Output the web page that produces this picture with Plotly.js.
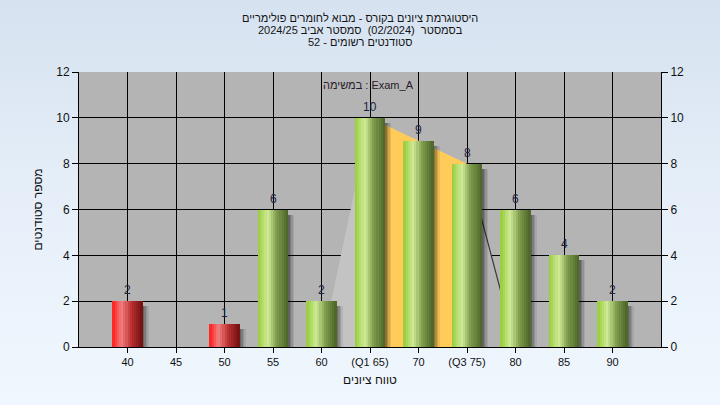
<!DOCTYPE html>
<html>
<head>
<meta charset="utf-8">
<script src="https://cdn.plot.ly/plotly-3.0.1.min.js"></script>
<style>
  html, body { margin: 0; padding: 0; }
  body { width: 720px; height: 405px; background: linear-gradient(to bottom, #d6e2f0 0%, #e6eff9 50%, #f0f7fe 100%); }
  #chart { width: 720px; height: 405px; }
</style>
</head>
<body>
<div id="chart"></div>
<script>
// ---- data ----
const categories = ['40', '45', '50', '55', '60', '(Q1 65)', '70', '(Q3 75)', '80', '85', '90'];
const scores = [40, 45, 50, 55, 60, 65, 70, 75, 80, 85, 90];
const counts = [2, 0, 1, 6, 2, 10, 9, 8, 6, 4, 2];
const passScore = 55;
const titleLines = [
  'היסטוגרמת ציונים בקורס - מבוא לחומרים פולימריים',
  'בסמסטר  (02/2024)  סמסטר אביב 2024/25',
  'סטודנטים רשומים - 52'
];
const taskLabel = 'במשימה : Exam_A';
const xTitle = 'טווח ציונים';
const yTitle = 'מספר סטודנטים';

// ---- derived ----
const idx = categories.map((_, i) => i);
const q1 = categories.findIndex(c => c.indexOf('Q1') >= 0);
const q3 = categories.findIndex(c => c.indexOf('Q3') >= 0);
const failing = scores.map(s => s < passScore);

const FONT = 'Liberation Sans, Arial, sans-serif';
const traces = [];

// shadows
const W = 0.62;
[[0.13, 0.08], [0.10, 0.11], [0.07, 0.15], [0.04, 0.2]].forEach(([dx, a]) => {
  traces.push({
    x: idx, y: counts.map(v => v > 0 ? Math.max(v - 0.22, 0) : 0), type: 'bar',
    width: W, offset: -W / 2 + dx, marker: { color: 'rgba(0,0,0,' + a + ')', line: { width: 0 } },
    hoverinfo: 'skip', showlegend: false
  });
});

// cylinder strips
function lerp(stops, t) {
  for (let i = 0; i < stops.length - 1; i++) {
    const [t0, c0] = stops[i], [t1, c1] = stops[i + 1];
    if (t <= t1) {
      const u = (t - t0) / (t1 - t0);
      return 'rgb(' + c0.map((c, k) => Math.round(c + (c1[k] - c) * u)).join(',') + ')';
    }
  }
  return 'rgb(' + stops[stops.length - 1][1].join(',') + ')';
}
const greenStops = [[0, [150, 204, 58]], [0.33, [208, 234, 152]], [0.62, [126, 156, 76]], [1, [74, 100, 40]]];
const redStops = [[0, [255, 28, 28]], [0.3, [242, 128, 128]], [0.62, [186, 48, 48]], [1, [114, 16, 16]]];
const N = 14;
for (let i = 0; i < N; i++) {
  const t = (i + 0.5) / N;
  traces.push({
    x: idx, y: counts, type: 'bar', width: W / N + 0.002, offset: -W / 2 + i * W / N,
    marker: { color: failing.map(f => f ? lerp(redStops, t) : lerp(greenStops, t)), line: { width: 0 } },
    hoverinfo: 'skip', showlegend: false
  });
}
// right axis carrier
traces.push({ x: [idx[0]], y: [0], yaxis: 'y2', type: 'scatter', mode: 'none', hoverinfo: 'skip', showlegend: false });

// distribution shape behind bars (data coordinates)
const pt = (i, v) => idx[i] + ',' + v;
const shapes = [
  { type: 'path', xref: 'x', yref: 'y', layer: 'between',
    path: 'M ' + pt(q1 - 1, 0) + ' L ' + pt(q1, counts[q1]) + ' L ' + pt(q1, 0) + ' Z',
    fillcolor: '#c3c3c3', line: { width: 0 } },
  { type: 'path', xref: 'x', yref: 'y', layer: 'between',
    path: 'M ' + pt(q1, 0) + ' L ' + pt(q1, counts[q1]) + ' L ' + pt(q3, counts[q3]) + ' L ' + pt(q3, 0) + ' Z',
    fillcolor: '#ffcc5a', line: { width: 0 } },
  { type: 'path', xref: 'x', yref: 'y', layer: 'between',
    path: 'M ' + pt(q3, 0) + ' L ' + pt(q3, counts[q3]) + ' L ' + pt(q3 + 1, 0) + ' Z',
    fillcolor: '#b4b4b4', line: { width: 0 } },
  { type: 'line', xref: 'x', yref: 'y', layer: 'between',
    x0: idx[q3], y0: counts[q3], x1: idx[q3 + 1], y1: 0,
    line: { width: 1.2, color: '#3a3a3a' } }
];

const tickFont = { family: FONT, size: 12, color: '#111' };
const plotTop = 72, plotBottom = 347;
const py = p => (plotBottom - p) / (plotBottom - plotTop);

const valueLabels = idx.filter(i => counts[i] > 0).map(i => ({
  text: String(counts[i]), x: idx[i], y: counts[i], xref: 'x', yref: 'y',
  xanchor: 'center', yanchor: 'bottom', yshift: 2, showarrow: false,
  font: { family: FONT, size: 12, color: '#1e2440' }
}));

const layout = {
  width: 720, height: 405,
  margin: { l: 79, r: 59, t: plotTop, b: 405 - plotBottom, pad: 0 },
  paper_bgcolor: 'rgba(0,0,0,0)', plot_bgcolor: '#b4b4b4',
  barmode: 'overlay', bargap: 0,
  font: { family: FONT, size: 12, color: '#111' },
  xaxis: {
    range: [-1, 11], tickmode: 'array', tickvals: idx, ticktext: categories,
    ticks: 'outside', ticklen: 5, tickcolor: '#000', tickfont: { family: FONT, size: 11, color: '#111' },
    showgrid: true, gridcolor: '#000', gridwidth: 1, zeroline: false,
    showline: true, linecolor: '#000', linewidth: 1, fixedrange: true,
    title: { text: xTitle, font: { family: FONT, size: 12, color: '#111' }, standoff: 8 }
  },
  yaxis: {
    range: [0, 12], dtick: 2, ticks: 'outside', ticklen: 6, tickcolor: '#000', tickfont: tickFont,
    showgrid: true, gridcolor: '#000', gridwidth: 1, zeroline: false,
    showline: true, linecolor: '#000', linewidth: 1, fixedrange: true,
    title: { text: yTitle, font: { family: FONT, size: 12, color: '#111' }, standoff: 11 }
  },
  yaxis2: {
    range: [0, 12], dtick: 2, overlaying: 'y', side: 'right', ticks: 'outside', ticklen: 6,
    tickcolor: '#000', tickfont: tickFont, showgrid: false, zeroline: false,
    showline: true, linecolor: '#000', linewidth: 1, fixedrange: true
  },
  shapes: shapes,
  annotations: titleLines.map((t, k) => ({
    text: t, xref: 'paper', yref: 'paper', x: (360 - 79) / 582, y: py(18 + k * 12),
    xanchor: 'center', yanchor: 'middle', showarrow: false, borderpad: 0,
    font: { family: FONT, size: 11, color: '#141414' }
  })).concat([{
    text: taskLabel, xref: 'paper', yref: 'paper', x: (368 - 79) / 582, y: py(85),
    xanchor: 'center', yanchor: 'middle', showarrow: false,
    font: { family: FONT, size: 11, color: '#2a1a2a' }
  }]).concat(valueLabels),
  showlegend: false
};

Plotly.newPlot('chart', traces, layout, { displayModeBar: false, staticPlot: true });
</script>
</body>
</html>
